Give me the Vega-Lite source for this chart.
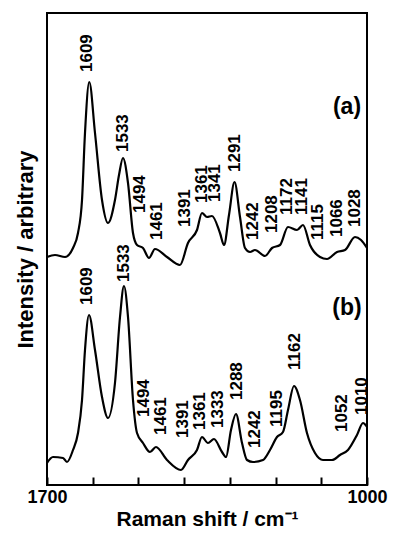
{
  "$schema": "https://vega.github.io/schema/vega-lite/v6.json",
  "width": 320,
  "height": 472,
  "autosize": {"type": "none"},
  "padding": {"left": 47, "top": 13, "right": 30, "bottom": 53},
  "background": "white",
  "config": {
    "view": {"stroke": "black", "strokeWidth": 2},
    "font": "Liberation Sans"
  },
  "datasets": {
    "spectra": [
      {"s": "a", "w": 1700, "i": 228}, {"s": "a", "w": 1682.5, "i": 230}, {"s": "a", "w": 1660.6, "i": 228},
      {"s": "a", "w": 1643.1, "i": 237}, {"s": "a", "w": 1632.2, "i": 252}, {"s": "a", "w": 1623.4, "i": 285},
      {"s": "a", "w": 1616.9, "i": 352}, {"s": "a", "w": 1607.5, "i": 403}, {"s": "a", "w": 1595, "i": 352},
      {"s": "a", "w": 1579.7, "i": 285}, {"s": "a", "w": 1566.6, "i": 262}, {"s": "a", "w": 1551.3, "i": 285},
      {"s": "a", "w": 1542.5, "i": 310}, {"s": "a", "w": 1533.8, "i": 327}, {"s": "a", "w": 1522.8, "i": 302},
      {"s": "a", "w": 1511.9, "i": 252}, {"s": "a", "w": 1503.1, "i": 240}, {"s": "a", "w": 1490, "i": 237},
      {"s": "a", "w": 1476.9, "i": 227}, {"s": "a", "w": 1463.8, "i": 236}, {"s": "a", "w": 1437.5, "i": 228},
      {"s": "a", "w": 1409.1, "i": 220}, {"s": "a", "w": 1391.6, "i": 242}, {"s": "a", "w": 1371.9, "i": 255},
      {"s": "a", "w": 1361, "i": 272}, {"s": "a", "w": 1350, "i": 268}, {"s": "a", "w": 1339.1, "i": 269},
      {"s": "a", "w": 1321.6, "i": 252}, {"s": "a", "w": 1312.8, "i": 240}, {"s": "a", "w": 1301.9, "i": 270},
      {"s": "a", "w": 1289.8, "i": 303}, {"s": "a", "w": 1277.8, "i": 268}, {"s": "a", "w": 1266.9, "i": 237},
      {"s": "a", "w": 1255.9, "i": 233}, {"s": "a", "w": 1245, "i": 235}, {"s": "a", "w": 1223.1, "i": 229},
      {"s": "a", "w": 1207.8, "i": 237}, {"s": "a", "w": 1190.3, "i": 240}, {"s": "a", "w": 1172.8, "i": 258},
      {"s": "a", "w": 1153.1, "i": 255}, {"s": "a", "w": 1140, "i": 260}, {"s": "a", "w": 1124.7, "i": 240},
      {"s": "a", "w": 1102.8, "i": 228}, {"s": "a", "w": 1087.5, "i": 226}, {"s": "a", "w": 1065.6, "i": 233},
      {"s": "a", "w": 1048.1, "i": 235}, {"s": "a", "w": 1026.3, "i": 248}, {"s": "a", "w": 1013.1, "i": 245},
      {"s": "a", "w": 1000, "i": 237},
      {"s": "b", "w": 1700, "i": 22}, {"s": "b", "w": 1686.9, "i": 28}, {"s": "b", "w": 1665, "i": 27},
      {"s": "b", "w": 1656.3, "i": 23}, {"s": "b", "w": 1643.1, "i": 35}, {"s": "b", "w": 1632.2, "i": 52},
      {"s": "b", "w": 1623.4, "i": 85}, {"s": "b", "w": 1616.9, "i": 135}, {"s": "b", "w": 1608.1, "i": 170},
      {"s": "b", "w": 1595, "i": 135}, {"s": "b", "w": 1579.7, "i": 88}, {"s": "b", "w": 1566.6, "i": 67},
      {"s": "b", "w": 1551.3, "i": 102}, {"s": "b", "w": 1540.3, "i": 168}, {"s": "b", "w": 1531.6, "i": 199},
      {"s": "b", "w": 1522.8, "i": 168}, {"s": "b", "w": 1511.9, "i": 85}, {"s": "b", "w": 1503.1, "i": 52},
      {"s": "b", "w": 1490, "i": 42}, {"s": "b", "w": 1474.7, "i": 33}, {"s": "b", "w": 1461.6, "i": 38},
      {"s": "b", "w": 1437.5, "i": 25}, {"s": "b", "w": 1406.9, "i": 15}, {"s": "b", "w": 1391.6, "i": 25},
      {"s": "b", "w": 1371.9, "i": 35}, {"s": "b", "w": 1361, "i": 48}, {"s": "b", "w": 1347.8, "i": 42},
      {"s": "b", "w": 1334.7, "i": 46}, {"s": "b", "w": 1317.2, "i": 33}, {"s": "b", "w": 1308.4, "i": 28},
      {"s": "b", "w": 1297.5, "i": 55}, {"s": "b", "w": 1286.6, "i": 71}, {"s": "b", "w": 1273.4, "i": 42},
      {"s": "b", "w": 1262.5, "i": 25}, {"s": "b", "w": 1249.4, "i": 23}, {"s": "b", "w": 1227.5, "i": 25},
      {"s": "b", "w": 1212.2, "i": 35}, {"s": "b", "w": 1196.9, "i": 48}, {"s": "b", "w": 1183.8, "i": 53},
      {"s": "b", "w": 1172.8, "i": 75}, {"s": "b", "w": 1159.7, "i": 99}, {"s": "b", "w": 1146.6, "i": 85},
      {"s": "b", "w": 1131.3, "i": 52}, {"s": "b", "w": 1113.8, "i": 32}, {"s": "b", "w": 1096.3, "i": 25},
      {"s": "b", "w": 1076.6, "i": 25}, {"s": "b", "w": 1059.1, "i": 30}, {"s": "b", "w": 1041.6, "i": 35},
      {"s": "b", "w": 1021.9, "i": 50}, {"s": "b", "w": 1008.8, "i": 62}, {"s": "b", "w": 1000, "i": 58}
    ],
    "peaks": [
      {"t": "1609", "w": 1612.5, "i": 413}, {"t": "1533", "w": 1533.8, "i": 333}, {"t": "1494", "w": 1496.6, "i": 272},
      {"t": "1461", "w": 1459.4, "i": 245}, {"t": "1391", "w": 1398.1, "i": 258}, {"t": "1361", "w": 1360.9, "i": 282},
      {"t": "1341", "w": 1332.5, "i": 283}, {"t": "1291", "w": 1288.8, "i": 313}, {"t": "1242", "w": 1249.4, "i": 245},
      {"t": "1208", "w": 1207.8, "i": 252}, {"t": "1172", "w": 1175, "i": 270}, {"t": "1141", "w": 1142.2, "i": 270},
      {"t": "1115", "w": 1107.2, "i": 245}, {"t": "1066", "w": 1065.6, "i": 248}, {"t": "1028", "w": 1026.3, "i": 258},
      {"t": "1609", "w": 1612.5, "i": 180}, {"t": "1533", "w": 1531.6, "i": 203}, {"t": "1494", "w": 1487.8, "i": 68},
      {"t": "1461", "w": 1450.6, "i": 50}, {"t": "1391", "w": 1402.5, "i": 47}, {"t": "1361", "w": 1365.3, "i": 55},
      {"t": "1333", "w": 1325.9, "i": 57}, {"t": "1288", "w": 1284.4, "i": 85}, {"t": "1242", "w": 1245, "i": 37},
      {"t": "1195", "w": 1196.9, "i": 58}, {"t": "1162", "w": 1157.5, "i": 115}, {"t": "1052", "w": 1054.7, "i": 53},
      {"t": "1010", "w": 1010.9, "i": 70}
    ],
    "panels": [
      {"t": "(a)", "w": 1043.75, "i": 378},
      {"t": "(b)", "w": 1043.75, "i": 177}
    ]
  },
  "layer": [
    {
      "data": {"name": "spectra"},
      "mark": {"type": "line", "color": "black", "strokeWidth": 2.2, "interpolate": "monotone"},
      "encoding": {
        "x": {
          "field": "w", "type": "quantitative",
          "scale": {"domain": [1000, 1700], "reverse": true, "nice": false},
          "axis": {
            "values": [1000, 1100, 1200, 1300, 1400, 1500, 1600, 1700],
            "labelExpr": "datum.value == 1700 || datum.value == 1000 ? datum.value : ''",
            "title": "Raman shift / cm⁻¹",
            "titleFont": "Liberation Sans", "titleFontWeight": "bold", "titleFontSize": 21, "titleColor": "black",
            "titlePadding": 2,
            "labelFont": "Liberation Sans", "labelFontWeight": "bold", "labelFontSize": 18, "labelColor": "black",
            "labelPadding": 11, "labelOverlap": false, "labelFlush": false,
            "domain": false, "grid": false,
            "tickSize": -8, "tickColor": "black", "tickWidth": 2
          }
        },
        "y": {
          "field": "i", "type": "quantitative",
          "scale": {"domain": [0, 472], "nice": false},
          "axis": {
            "title": "Intensity / arbitrary",
            "titleFont": "Liberation Sans", "titleFontWeight": "bold", "titleFontSize": 22, "titleColor": "black",
            "titlePadding": 10,
            "labels": false, "ticks": false, "domain": false, "grid": false
          }
        },
        "detail": {"field": "s"}
      }
    },
    {
      "data": {"name": "peaks"},
      "mark": {"type": "text", "angle": 270, "align": "left", "baseline": "middle", "font": "Liberation Sans", "fontWeight": "bold", "fontSize": 17, "color": "black"},
      "encoding": {
        "x": {"field": "w", "type": "quantitative"},
        "y": {"field": "i", "type": "quantitative"},
        "text": {"field": "t"}
      }
    },
    {
      "data": {"name": "panels"},
      "mark": {"type": "text", "align": "center", "baseline": "middle", "font": "Liberation Sans", "fontWeight": "bold", "fontSize": 23, "color": "black"},
      "encoding": {
        "x": {"field": "w", "type": "quantitative"},
        "y": {"field": "i", "type": "quantitative"},
        "text": {"field": "t"}
      }
    }
  ]
}
